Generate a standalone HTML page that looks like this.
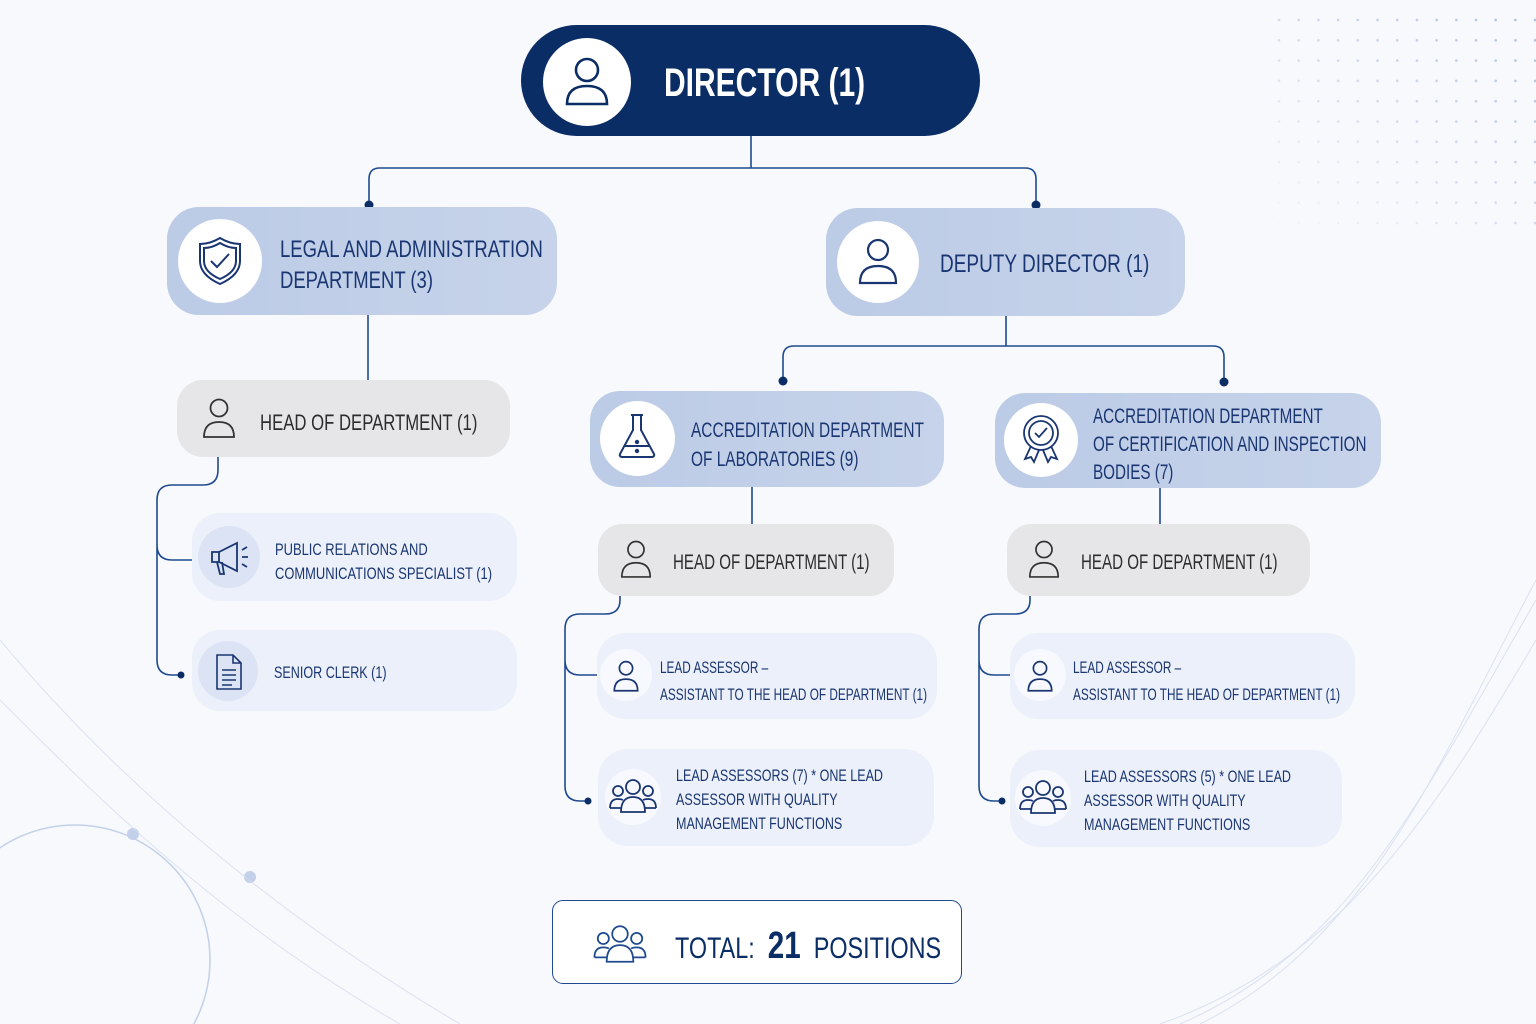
<!DOCTYPE html>
<html style="margin:0;width:1536px;height:1024px;overflow:hidden"><head><meta charset="utf-8"><style>
body{margin:0;width:1536px;height:1024px;overflow:hidden;background:#f8f9fc;font-family:"Liberation Sans Narrow","Liberation Sans",sans-serif;position:relative}
.b{position:absolute;box-sizing:border-box}
.t{position:absolute;white-space:nowrap;line-height:1.18;transform:scaleX(.74);transform-origin:0 0}
.dark{color:#1a3672}
svg.ic{position:absolute}
</style></head><body>
<svg class="ic" style="left:0;top:0" width="1536" height="1024">
<defs><pattern id="dp" width="19.7" height="20.3" patternUnits="userSpaceOnUse" x="1270" y="10"><circle cx="9" cy="10" r="1.3" fill="#5b7fc4" opacity=".5"/></pattern>
<linearGradient id="fade" x1="1" y1="0" x2="0" y2="1"><stop offset="0" stop-color="#fff" stop-opacity="1"/><stop offset="1" stop-color="#fff" stop-opacity="0"/></linearGradient>
<mask id="m"><rect x="1270" y="10" width="266" height="220" fill="url(#fade)"/></mask></defs>
<rect x="1270" y="10" width="266" height="220" fill="url(#dp)" mask="url(#m)"/>
<circle cx="75" cy="960" r="135" fill="none" stroke="#c3d0ea" stroke-width="1.5"/>
<circle cx="133" cy="834" r="6" fill="#c3d0ea"/><circle cx="250" cy="877" r="6" fill="#c3d0ea"/>
<g fill="none" stroke="#d3dcee" stroke-width="1" opacity=".8">
<path d="M1180 1024 C1350 950 1420 800 1536 600"/><path d="M1160 1024 C1340 960 1430 820 1536 640"/><path d="M1200 1024 C1370 940 1440 760 1536 580"/>
<path d="M0 640 C100 760 250 900 460 1024"/><path d="M0 700 C100 800 220 920 400 1024"/>
</g>
<g fill="none" stroke="#1f4a8f" stroke-width="1.6">
<path d="M751 136 V168 M380 168 H1025 M380 168 Q369 168 369 179 V205 M1025 168 Q1036 168 1036 179 V205"/>
<path d="M368 315 V380"/>
<path d="M218 457 V470 Q218 485 203 485 H172 Q157 485 157 500 V660 Q157 675 172 675 H181 M157 545 Q157 560 172 560 H192"/>
<path d="M1006 316 V346 M794 346 H1213 M794 346 Q783 346 783 357 V381 M1213 346 Q1224 346 1224 357 V382"/>
<path d="M752 487 V524 M1160 488 V524"/>
<path d="M620 596 V600 Q620 614 605 614 H580 Q565 614 565 629 V786 Q565 801 580 801 H588 M565 660 Q565 675 580 675 H597"/>
<path d="M1030 596 V600 Q1030 614 1015 614 H994 Q979 614 979 629 V786 Q979 801 994 801 H1002 M979 660 Q979 675 994 675 H1010"/>
</g>
<g fill="#0b2d66"><circle cx="369" cy="205" r="4.5"/><circle cx="1036" cy="205" r="4.5"/><circle cx="783" cy="381" r="4.5"/><circle cx="1224" cy="382" r="4.5"/><circle cx="181" cy="675" r="3.5"/><circle cx="588" cy="801" r="3.5"/><circle cx="1002" cy="801" r="3.5"/></g>
</svg>

<div class="b" style="left:521px;top:25px;width:459px;height:111px;border-radius:56px;background:#0b2d66"></div>
<div class="b" style="left:543px;top:38px;width:88px;height:88px;border-radius:50%;background:#fff"></div>
<svg class="ic" style="left:563px;top:54px" width="48" height="54" viewBox="0 0 48 54" fill="none" stroke="#0b2d66" stroke-width="2.6"><circle cx="24" cy="16" r="11"/><path d="M4 50 Q4 32 24 32 Q44 32 44 50 Z"/></svg>
<div class="t" style="left:664px;top:60px;font-size:40px;font-weight:bold;color:#fff;transform:scaleX(.75)">DIRECTOR (1)</div>

<div class="b" style="left:167px;top:207px;width:390px;height:108px;border-radius:32px;background:linear-gradient(90deg,#bccbe6,#c6d3ea)"></div>
<div class="b" style="left:178px;top:219px;width:84px;height:84px;border-radius:50%;background:#fff"></div>
<svg class="ic" style="left:196px;top:235px" width="48" height="52" viewBox="0 0 48 52" fill="none" stroke="#1a3672" stroke-width="2"><path d="M24 3 Q34 9 44 9 V26 Q44 40 24 49 Q4 40 4 26 V9 Q14 9 24 3 Z"/><path d="M24 8 Q32 13 40 13 V26 Q40 37 24 44 Q8 37 8 26 V13 Q16 13 24 8 Z"/><path d="M15 26 L21 32 L33 19"/></svg>
<div class="t dark" style="left:280px;top:234px;font-size:24px;line-height:31px;transform:scaleX(.77)">LEGAL AND ADMINISTRATION<br>DEPARTMENT (3)</div>

<div class="b" style="left:826px;top:208px;width:359px;height:108px;border-radius:32px;background:linear-gradient(90deg,#bccbe6,#c6d3ea)"></div>
<div class="b" style="left:837px;top:221px;width:82px;height:82px;border-radius:50%;background:#fff"></div>
<svg class="ic" style="left:857px;top:236px" width="42" height="50" viewBox="0 0 42 50" fill="none" stroke="#1a3672" stroke-width="2.2"><circle cx="21" cy="14" r="10"/><path d="M3 47 Q3 30 21 30 Q39 30 39 47 Z"/></svg>
<div class="t dark" style="left:940px;top:250px;font-size:25px;transform:scaleX(.76)">DEPUTY DIRECTOR (1)</div>

<div class="b" style="left:177px;top:380px;width:333px;height:77px;border-radius:26px;background:#e6e6e8"></div>
<svg class="ic" style="left:201px;top:397px" width="36" height="42" viewBox="0 0 36 42" fill="none" stroke="#333" stroke-width="1.8"><circle cx="18" cy="11" r="8.5"/><path d="M3 40 Q3 25 18 25 Q33 25 33 40 Z"/></svg>
<div class="t" style="left:260px;top:410px;font-size:22px;color:#2c2c2c;transform:scaleX(.76)">HEAD OF DEPARTMENT (1)</div>

<div class="b" style="left:192px;top:513px;width:325px;height:88px;border-radius:28px;background:#ecf0fa"></div>
<div class="b" style="left:198px;top:526px;width:62px;height:62px;border-radius:50%;background:#dbe3f4"></div>
<svg class="ic" style="left:209px;top:540px" width="42" height="36" viewBox="0 0 42 36" fill="none" stroke="#1a3672" stroke-width="1.8"><path d="M3 12 H10 L28 3 V31 L10 22 H3 Z"/><path d="M10 12 V22 M8 22 L11 34 H15 L13 22"/><path d="M33 10 L38 7 M33 17 H39 M33 24 L38 27"/></svg>
<div class="t dark" style="left:275px;top:538px;font-size:17px;line-height:24px;transform:scaleX(.76)">PUBLIC RELATIONS AND<br>COMMUNICATIONS SPECIALIST (1)</div>

<div class="b" style="left:192px;top:630px;width:325px;height:81px;border-radius:28px;background:#ecf0fa"></div>
<div class="b" style="left:198px;top:641px;width:60px;height:60px;border-radius:50%;background:#dbe3f4"></div>
<svg class="ic" style="left:214px;top:653px" width="30" height="38" viewBox="0 0 30 38" fill="none" stroke="#1a3672" stroke-width="1.6"><path d="M3 2 H19 L27 10 V36 H3 Z M19 2 V10 H27"/><path d="M8 17 H22 M8 22 H22 M8 27 H22 M8 32 H18"/></svg>
<div class="t dark" style="left:274px;top:663px;font-size:17px">SENIOR CLERK (1)</div>

<div class="b" style="left:590px;top:391px;width:354px;height:96px;border-radius:30px;background:linear-gradient(90deg,#bccbe6,#c6d3ea)"></div>
<div class="b" style="left:600px;top:401px;width:75px;height:75px;border-radius:50%;background:#fff"></div>
<svg class="ic" style="left:615px;top:412px" width="44" height="48" viewBox="0 0 44 48" fill="none" stroke="#1a3672" stroke-width="2"><path d="M16 3 H28 M18 3 V18 L5 42 Q4 45 8 45 H36 Q40 45 39 42 L26 18 V3"/><path d="M10 34 H34"/><circle cx="22" cy="39" r="1.2" fill="#1a3672"/><circle cx="22" cy="30" r="1.2" fill="#1a3672"/></svg>
<div class="t dark" style="left:691px;top:416px;font-size:21px;line-height:29px;transform:scaleX(.735)">ACCREDITATION DEPARTMENT<br>OF LABORATORIES (9)</div>

<div class="b" style="left:995px;top:393px;width:386px;height:95px;border-radius:30px;background:linear-gradient(90deg,#bccbe6,#c6d3ea)"></div>
<div class="b" style="left:1004px;top:403px;width:74px;height:74px;border-radius:50%;background:#fff"></div>
<svg class="ic" style="left:1019px;top:413px" width="44" height="52" viewBox="0 0 44 52" fill="none" stroke="#1a3672" stroke-width="1.8"><circle cx="22" cy="20" r="17"/><circle cx="22" cy="20" r="12"/><path d="M16 20 L20 24 L28 15"/><path d="M12 33 L6 46 L12 44 L15 49 L20 37 M32 33 L38 46 L32 44 L29 49 L24 37"/></svg>
<div class="t dark" style="left:1093px;top:403px;font-size:21px;line-height:28px;transform:scaleX(.725)">ACCREDITATION DEPARTMENT<br>OF CERTIFICATION AND INSPECTION<br>BODIES (7)</div>

<div class="b" style="left:598px;top:524px;width:296px;height:72px;border-radius:24px;background:#e6e6e8"></div>
<svg class="ic" style="left:619px;top:539px" width="34" height="40" viewBox="0 0 36 42" fill="none" stroke="#333" stroke-width="1.8"><circle cx="18" cy="11" r="8.5"/><path d="M3 40 Q3 25 18 25 Q33 25 33 40 Z"/></svg>
<div class="t" style="left:673px;top:551px;font-size:21px;color:#2c2c2c;transform:scaleX(.72)">HEAD OF DEPARTMENT (1)</div>

<div class="b" style="left:1007px;top:524px;width:303px;height:72px;border-radius:24px;background:#e6e6e8"></div>
<svg class="ic" style="left:1027px;top:539px" width="34" height="40" viewBox="0 0 36 42" fill="none" stroke="#333" stroke-width="1.8"><circle cx="18" cy="11" r="8.5"/><path d="M3 40 Q3 25 18 25 Q33 25 33 40 Z"/></svg>
<div class="t" style="left:1081px;top:551px;font-size:21px;color:#2c2c2c;transform:scaleX(.72)">HEAD OF DEPARTMENT (1)</div>

<div class="b" style="left:597px;top:633px;width:340px;height:86px;border-radius:28px;background:#ecf0fa"></div>
<div class="b" style="left:600px;top:649px;width:52px;height:52px;border-radius:50%;background:#f7f9fe"></div>
<svg class="ic" style="left:612px;top:659px" width="28" height="34" viewBox="0 0 36 42" fill="none" stroke="#1a3672" stroke-width="2.2"><circle cx="18" cy="11" r="8.5"/><path d="M3 40 Q3 25 18 25 Q33 25 33 40 Z"/></svg>
<div class="t dark" style="left:660px;top:655px;font-size:16.5px;line-height:27px;transform:scaleX(.715)">LEAD ASSESSOR –<br>ASSISTANT TO THE HEAD OF DEPARTMENT (1)</div>

<div class="b" style="left:1010px;top:633px;width:345px;height:86px;border-radius:28px;background:#ecf0fa"></div>
<div class="b" style="left:1014px;top:649px;width:52px;height:52px;border-radius:50%;background:#f7f9fe"></div>
<svg class="ic" style="left:1026px;top:659px" width="28" height="34" viewBox="0 0 36 42" fill="none" stroke="#1a3672" stroke-width="2.2"><circle cx="18" cy="11" r="8.5"/><path d="M3 40 Q3 25 18 25 Q33 25 33 40 Z"/></svg>
<div class="t dark" style="left:1073px;top:655px;font-size:16.5px;line-height:27px;transform:scaleX(.715)">LEAD ASSESSOR –<br>ASSISTANT TO THE HEAD OF DEPARTMENT (1)</div>

<div class="b" style="left:598px;top:749px;width:336px;height:97px;border-radius:30px;background:#ecf0fa"></div>
<div class="b" style="left:605px;top:769px;width:56px;height:56px;border-radius:50%;background:#f7f9fe"></div>
<svg class="ic" style="left:608px;top:778px" width="50" height="36" viewBox="0 0 50 36" fill="none" stroke="#1a3672" stroke-width="1.8"><circle cx="25" cy="9" r="7"/><path d="M13 34 Q13 19 25 19 Q37 19 37 34 Z"/><circle cx="10" cy="13" r="5"/><path d="M2 30 Q2 21 10 21 Q13 21 15 22"/><circle cx="40" cy="13" r="5"/><path d="M48 30 Q48 21 40 21 Q37 21 35 22"/><path d="M2 30 H13 M37 30 H48"/></svg>
<div class="t dark" style="left:676px;top:764px;font-size:16.5px;line-height:24px;transform:scaleX(.76)">LEAD ASSESSORS (7) * ONE LEAD<br>ASSESSOR WITH QUALITY<br>MANAGEMENT FUNCTIONS</div>

<div class="b" style="left:1010px;top:750px;width:332px;height:97px;border-radius:30px;background:#ecf0fa"></div>
<div class="b" style="left:1015px;top:770px;width:56px;height:56px;border-radius:50%;background:#f7f9fe"></div>
<svg class="ic" style="left:1018px;top:779px" width="50" height="36" viewBox="0 0 50 36" fill="none" stroke="#1a3672" stroke-width="1.8"><circle cx="25" cy="9" r="7"/><path d="M13 34 Q13 19 25 19 Q37 19 37 34 Z"/><circle cx="10" cy="13" r="5"/><path d="M2 30 Q2 21 10 21 Q13 21 15 22"/><circle cx="40" cy="13" r="5"/><path d="M48 30 Q48 21 40 21 Q37 21 35 22"/><path d="M2 30 H13 M37 30 H48"/></svg>
<div class="t dark" style="left:1084px;top:765px;font-size:16.5px;line-height:24px;transform:scaleX(.76)">LEAD ASSESSORS (5) * ONE LEAD<br>ASSESSOR WITH QUALITY<br>MANAGEMENT FUNCTIONS</div>

<div class="b" style="left:552px;top:900px;width:410px;height:84px;border-radius:11px;background:#fff;border:1.6px solid #1f4a8f"></div>
<svg class="ic" style="left:592px;top:924px" width="56" height="40" viewBox="0 0 50 36" fill="none" stroke="#1f4a8f" stroke-width="1.6"><circle cx="25" cy="9" r="7"/><path d="M13 34 Q13 19 25 19 Q37 19 37 34 Z"/><circle cx="10" cy="13" r="5"/><path d="M2 30 Q2 21 10 21 Q13 21 15 22"/><circle cx="40" cy="13" r="5"/><path d="M48 30 Q48 21 40 21 Q37 21 35 22"/><path d="M2 30 H13 M37 30 H48"/></svg>
<div class="t" style="left:675px;top:926px;font-size:30px;color:#0b2d66;line-height:40px;transform:scaleX(.78)">TOTAL:&nbsp; <b style="font-size:38px">21</b>&nbsp; POSITIONS</div>
</body></html>
